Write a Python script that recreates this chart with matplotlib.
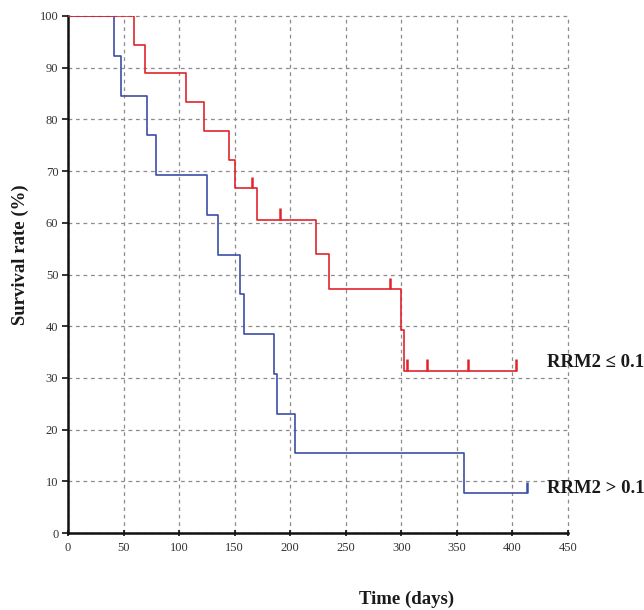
import numpy as np
import matplotlib.pyplot as plt

# Kaplan-Meier steps (days, survival %)
blue_times = [0, 41, 48, 71, 79, 125, 135, 155, 158, 185, 188, 204, 356]
blue_surv = [100, 92.3, 84.6, 76.9, 69.2, 61.5, 53.8, 46.2, 38.5, 30.8, 23.1, 15.4, 7.7]
blue_end = 413
blue_censor_t = [413]
blue_censor_s = [7.7]

red_times = [0, 59, 69, 106, 122, 145, 150, 170, 223, 235, 300, 302]
red_surv = [100, 94.4, 88.9, 83.3, 77.8, 72.2, 66.7, 60.6, 53.9, 47.1, 39.3, 31.4]
red_end = 403
red_censor_t = [166, 191, 290, 305, 323, 360, 403]
red_censor_s = [66.7, 60.6, 47.1, 31.4, 31.4, 31.4, 31.4]

xticks = [0, 50, 100, 150, 200, 250, 300, 350, 400, 450]
yticks = [0, 10, 20, 30, 40, 50, 60, 70, 80, 90, 100]

RED = '#e2242c'
BLUE = '#3b4fa6'
SERIF = ['Liberation Serif', 'DejaVu Serif']

plt.rcParams['font.family'] = SERIF

fig = plt.figure(figsize=(6.44, 6.10), dpi=100)
ax = fig.add_axes([68 / 644, 1 - 533 / 610, 500 / 644, 517 / 610])


def km_line(times, surv, end, color):
    t = np.append(times, end)
    s = np.append(surv, surv[-1])
    ax.step(t, s, where='post', color=color, linewidth=1.2, zorder=3)


km_line(blue_times, blue_surv, blue_end, BLUE)
km_line(red_times, red_surv, red_end, RED)

# censor marks: small upward ticks
bs = np.array(blue_censor_s)
rs = np.array(red_censor_s)
ax.vlines(blue_censor_t, bs, bs + 2.2, color=BLUE, linewidth=1.8, zorder=4)
ax.vlines(red_censor_t, rs, rs + 2.2, color=RED, linewidth=1.8, zorder=4)

ax.set_xlim(0, 450)
ax.set_ylim(0, 100)
ax.set_xticks(xticks)
ax.set_yticks(yticks)
ax.grid(True, color='#8c8c8c', linestyle=(0, (3, 3)), linewidth=0.9)
ax.set_axisbelow(True)
for gl in ax.get_xgridlines() + ax.get_ygridlines():
    gl.set_clip_on(False)

for side in ['top', 'right']:
    ax.spines[side].set_visible(False)
for side in ['left', 'bottom']:
    ax.spines[side].set_linewidth(1.8)
    ax.spines[side].set_color('#111111')

ax.tick_params(axis='x', direction='inout', length=5, width=1.2,
               labelsize=9, colors='#111111', labelcolor='#333333', pad=4)
ax.tick_params(axis='y', direction='out', length=4, width=1.2,
               labelsize=9, colors='#111111', labelcolor='#333333', pad=3)

ax.text(431, 32.9, 'RRM2 \u2264 0.1', fontsize=13.5, fontweight='bold',
        va='center', ha='left', clip_on=False, color='#1a1a1a')
ax.text(431, 8.7, 'RRM2 > 0.1', fontsize=13.5, fontweight='bold',
        va='center', ha='left', clip_on=False, color='#1a1a1a')

fig.text(20 / 644, 1 - 255 / 610, 'Survival rate (%)', rotation=90,
         fontsize=13.5, fontweight='bold', ha='center', va='center',
         color='#1a1a1a')
fig.text(407 / 644, 1 - 599 / 610, 'Time (days)', fontsize=13.5,
         fontweight='bold', ha='center', va='center', color='#1a1a1a')

fig.savefig('out.png', dpi=100)
